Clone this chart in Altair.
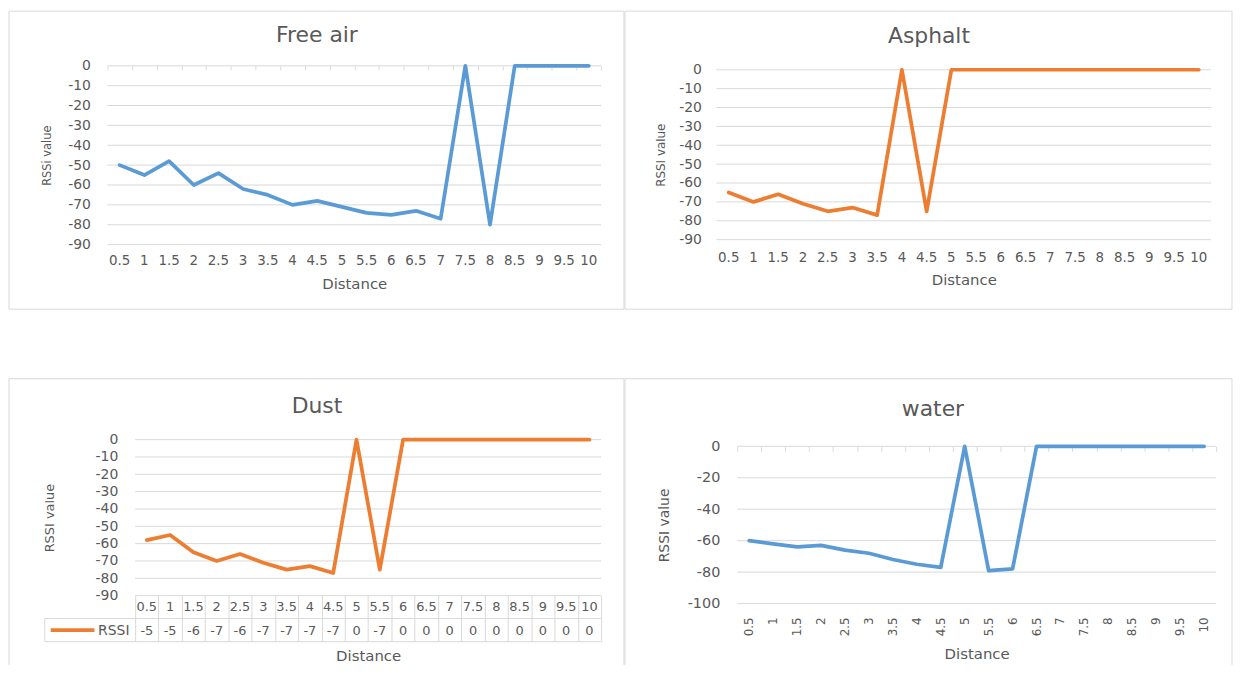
import altair as alt
import pandas as pd

distances = ["0.5", "1", "1.5", "2", "2.5", "3", "3.5", "4", "4.5", "5",
             "5.5", "6", "6.5", "7", "7.5", "8", "8.5", "9", "9.5", "10"]
free_air = [-50, -55, -48, -60, -54, -62, -65, -70, -68, -71,
            -74, -75, -73, -77, 0, -80, 0, 0, 0, 0]
asphalt = [-65, -70, -66, -71, -75, -73, -77, 0, -75, 0,
           0, 0, 0, 0, 0, 0, 0, 0, 0, 0]
dust = [-58, -55, -65, -70, -66, -71, -75, -73, -77, 0,
        -75, 0, 0, 0, 0, 0, 0, 0, 0, 0]
water = [-60, -62, -64, -63, -66, -68, -72, -75, -77, 0,
         -79, -78, 0, 0, 0, 0, 0, 0, 0, 0]
ticks_90 = [-90, -80, -70, -60, -50, -40, -30, -20, -10, 0]
ticks_100 = [-100, -80, -60, -40, -20, 0]
titles = ["Free air", "Asphalt", "Dust", "water"]
y_titles = ["RSSi value", "RSSI value", "RSSI value", "RSSI value"]
x_title = "Distance"
legend_label = "RSSI"

FONT = "DejaVu Sans"
TXT = "#595959"
GRID = "#D9D9D9"
BLUE = "#5B9BD5"
ORANGE = "#ED7D31"
LW = 3.75
one = pd.DataFrame({"k": [0]})


def xscale(x0, x1):
    return alt.Scale(type="band", domain=distances, paddingInner=0, paddingOuter=0,
                     range=[x0, x1])


def txt(text, x, y, size):
    return alt.Chart(pd.DataFrame({"t": [text]})).mark_text(
        font=FONT, fontSize=size, color=TXT, align="center", baseline="middle"
    ).encode(text="t:N", x=alt.value(x), y=alt.value(y))


def hline(x1, x2, y, color=GRID, width=1):
    return alt.Chart(one).mark_rule(color=color, strokeWidth=width).encode(
        x=alt.value(x1), x2=alt.value(x2), y=alt.value(y))


def vline(x, y1, y2):
    return alt.Chart(one).mark_rule(color=GRID, strokeWidth=1).encode(
        x=alt.value(x), y=alt.value(y1), y2=alt.value(y2))


def box(W, H):
    return alt.Chart(one).mark_rect(filled=False, stroke=GRID, strokeWidth=1).encode(
        x=alt.value(0), x2=alt.value(W), y=alt.value(0), y2=alt.value(H))


def open_box(W, H):
    return [hline(0, W, 0), vline(0, 0, H), vline(W, 0, H)]


def yscale(dom, y0, y1):
    return alt.Scale(domain=dom, nice=False, zero=False, range=[y1, y0])


def gridlines(vals, x0, x1, dom, y0, y1):
    return alt.Chart(pd.DataFrame({"v": vals})).mark_rule(color=GRID, strokeWidth=1).encode(
        y=alt.Y("v:Q", scale=yscale(dom, y0, y1), axis=None),
        x=alt.value(x0), x2=alt.value(x1))


def tick_axis(x0, x1, offset, size):
    df = pd.DataFrame({"Distance": distances})
    return alt.Chart(df).mark_point(opacity=0).encode(
        x=alt.X("Distance:N", scale=xscale(x0, x1),
                axis=alt.Axis(orient="bottom", offset=offset, labels=False, ticks=True,
                              tickSize=size, tickBand="extent", tickColor=GRID, tickWidth=1,
                              domain=False, grid=False, title=None)))


def series(values, color, H, x0, x1, y0, y1, ydom, yvals, ytitle, ypad, ytx, yts,
           xpad, xty, xangle=0, xsize=13.5, ysize=14):
    df = pd.DataFrame({"Distance": distances, "RSSI": values})
    xaxis = alt.Axis(orient="bottom", offset=y1 - H, title=x_title, labelAngle=xangle,
                     labelPadding=xpad, labelFontSize=xsize,
                     labelBaseline="middle", labelAlign=("right" if xangle else "center"),
                     labelOverlap=False, ticks=False, domain=False, grid=False,
                     titleFontSize=15, titleX=(x0 + x1) / 2, titleY=xty, titleAlign="center",
                     titleBaseline="middle")
    yaxis = alt.Axis(orient="left", offset=-x0, values=yvals, title=ytitle, labelPadding=ypad,
                     labelFontSize=ysize,
                     labelExpr="toString(datum.value)", ticks=False, domain=False, grid=False,
                     titleFontSize=yts, titleAngle=270,
                     titleX=ytx, titleY=(y0 + y1) / 2, titleAlign="center",
                     titleBaseline="middle")
    return alt.Chart(df).mark_line(color=color, strokeWidth=LW, strokeJoin="round",
                                   strokeCap="round").encode(
        x=alt.X("Distance:N", scale=xscale(x0, x1), bandPosition=0.5, axis=xaxis),
        y=alt.Y("RSSI:Q", scale=yscale(ydom, y0, y1), axis=yaxis))


ROW1_H = 300
ROW2_H = 288

# Panel 1: Free air  (plot region x 99..596, y 55..235)
W1 = 619
p1 = alt.layer(
    box(W1, ROW1_H),
    gridlines(ticks_90, 99, 596, [-90, 0], 55, 235),
    txt(titles[0], 310, 24, 22),
    tick_axis(99, 596, 55 - ROW1_H, 4),
    series(free_air, BLUE, ROW1_H, 99, 596, 55, 235, [-90, 0], ticks_90, y_titles[0],
           17, -60, 11.5, 16.5, 39.5),
).resolve_axis(x="independent", y="independent").properties(width=W1, height=ROW1_H)

# Panel 2: Asphalt  (plot region x 92..590, y 59..230)
W2 = 611
p2 = alt.layer(
    box(W2, ROW1_H),
    gridlines(ticks_90, 92, 590, [-90, 0], 59, 230),
    txt(titles[1], 306, 25.5, 22),
    series(asphalt, ORANGE, ROW1_H, 92, 590, 59, 230, [-90, 0], ticks_90, y_titles[1],
           15, -56, 12, 18, 40.5),
).resolve_axis(x="independent", y="independent").properties(width=W2, height=ROW1_H)

# Panel 3: Dust with data table  (plot region x 127..596, y 61.3..218.3)
dust_labels = pd.DataFrame({"Distance": distances, "label": [str(v)[:2] for v in dust]})
row2 = alt.Chart(dust_labels).mark_text(font=FONT, fontSize=13, color=TXT, baseline="middle").encode(
    x=alt.X("Distance:N", scale=xscale(127, 596), bandPosition=0.5, axis=None),
    y=alt.value(253.7), text="label:N")
p3 = alt.layer(
    *open_box(W1, ROW2_H),
    gridlines(ticks_90, 127, 596, [-90, 0], 61.3, 218.3),
    txt(titles[2], 310, 27.3, 22),
    tick_axis(127, 596, 218.3 - ROW2_H, 46),
    hline(36, 596, 241.3), hline(36, 596, 264.7), vline(36, 241.3, 264.7),
    row2,
    hline(42, 86, 253, ORANGE, LW),
    txt(legend_label, 105.5, 253.7, 14),
    series(dust, ORANGE, ROW2_H, 127, 596, 61.3, 218.3, [-90, 0], ticks_90, y_titles[2],
           17.5, -86, 13, 11, 60.5, xsize=13),
).resolve_axis(x="independent", y="independent").properties(width=W1, height=ROW2_H)

# Panel 4: water  (plot region x 113..595, y 68..226.3)
p4 = alt.layer(
    *open_box(W2, ROW2_H),
    gridlines(ticks_100, 113, 595, [-100, 0], 68, 226.3),
    txt(titles[3], 310, 30.5, 22),
    tick_axis(113, 595, 68 - ROW2_H, 5),
    series(water, BLUE, ROW2_H, 113, 595, 68, 226.3, [-100, 0], ticks_100, y_titles[3],
           17.5, -73, 14, 13.4, 50, xangle=270, xsize=12, ysize=14.5),
).resolve_axis(x="independent", y="independent").properties(width=W2, height=ROW2_H)

chart = alt.concat(
    p1, p2, p3, p4, columns=2, bounds="flush",
    spacing=alt.RowColnumber(row=70, column=1),
).properties(padding=0, background="white").configure_axis(
    labelFont=FONT, titleFont=FONT, labelColor=TXT, titleColor=TXT, titleFontWeight="normal"
).configure_view(strokeWidth=0)

chart.save("out.html", embed_options={"renderer": "svg", "actions": False})
